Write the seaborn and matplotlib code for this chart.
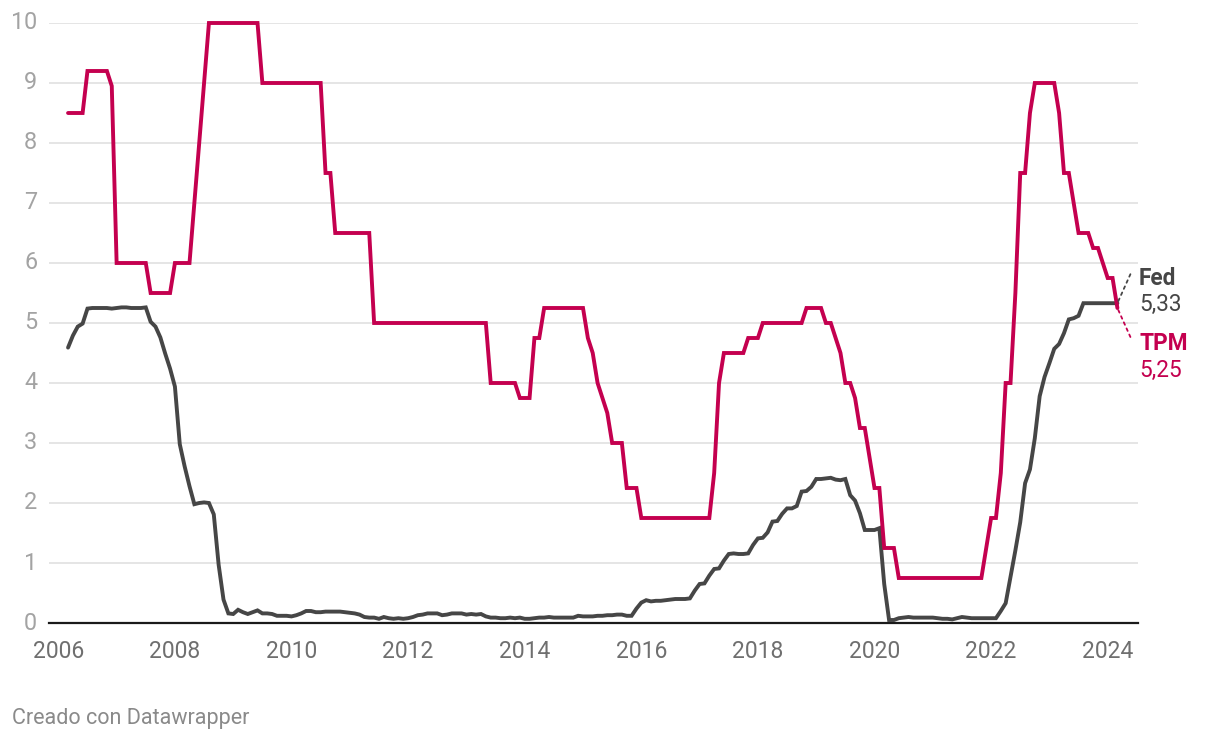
import numpy as np
import pandas as pd
import matplotlib
matplotlib.use("Agg")
import matplotlib.pyplot as plt
import seaborn as sns

# ---------------- data ----------------
fecha_inicio = "2006-03"
fecha_fin = "2024-03"

tpm = [
    # 2006 (mar-dic)
    8.5, 8.5, 8.5, 8.5, 9.2, 9.2, 9.2, 9.2, 9.2, 8.95,
    # 2007
    6.0, 6.0, 6.0, 6.0, 6.0, 6.0, 6.0, 5.5, 5.5, 5.5, 5.5, 5.5,
    # 2008
    6.0, 6.0, 6.0, 6.0, 7.0, 8.0, 9.0, 10.0, 10.0, 10.0, 10.0, 10.0,
    # 2009
    10.0, 10.0, 10.0, 10.0, 10.0, 10.0, 9.0, 9.0, 9.0, 9.0, 9.0, 9.0,
    # 2010
    9.0, 9.0, 9.0, 9.0, 9.0, 9.0, 9.0, 7.5, 7.5, 6.5, 6.5, 6.5,
    # 2011
    6.5, 6.5, 6.5, 6.5, 6.5, 5.0, 5.0, 5.0, 5.0, 5.0, 5.0, 5.0,
    # 2012
    5.0, 5.0, 5.0, 5.0, 5.0, 5.0, 5.0, 5.0, 5.0, 5.0, 5.0, 5.0,
    # 2013
    5.0, 5.0, 5.0, 5.0, 5.0, 4.0, 4.0, 4.0, 4.0, 4.0, 4.0, 3.75,
    # 2014
    3.75, 3.75, 4.75, 4.75, 5.25, 5.25, 5.25, 5.25, 5.25, 5.25, 5.25, 5.25,
    # 2015
    5.25, 4.75, 4.5, 4.0, 3.75, 3.5, 3.0, 3.0, 3.0, 2.25, 2.25, 2.25,
    # 2016
    1.75, 1.75, 1.75, 1.75, 1.75, 1.75, 1.75, 1.75, 1.75, 1.75, 1.75, 1.75,
    # 2017
    1.75, 1.75, 1.75, 2.5, 4.0, 4.5, 4.5, 4.5, 4.5, 4.5, 4.75, 4.75,
    # 2018
    4.75, 5.0, 5.0, 5.0, 5.0, 5.0, 5.0, 5.0, 5.0, 5.0, 5.25, 5.25,
    # 2019
    5.25, 5.25, 5.0, 5.0, 4.75, 4.5, 4.0, 4.0, 3.75, 3.25, 3.25, 2.75,
    # 2020
    2.25, 2.25, 1.25, 1.25, 1.25, 0.75, 0.75, 0.75, 0.75, 0.75, 0.75, 0.75,
    # 2021
    0.75, 0.75, 0.75, 0.75, 0.75, 0.75, 0.75, 0.75, 0.75, 0.75, 0.75, 1.25,
    # 2022
    1.75, 1.75, 2.5, 4.0, 4.0, 5.5, 7.5, 7.5, 8.5, 9.0, 9.0, 9.0,
    # 2023
    9.0, 9.0, 8.5, 7.5, 7.5, 7.0, 6.5, 6.5, 6.5, 6.25, 6.25, 6.0,
    # 2024
    5.75, 5.75, 5.25,
]

fed = [
    # 2006 (mar-dic)
    4.59, 4.79, 4.94, 4.99, 5.24, 5.25, 5.25, 5.25, 5.25, 5.24,
    # 2007
    5.25, 5.26, 5.26, 5.25, 5.25, 5.25, 5.26, 5.02, 4.94, 4.76, 4.49, 4.24,
    # 2008
    3.94, 2.98, 2.61, 2.28, 1.98, 2.00, 2.01, 2.00, 1.81, 0.97, 0.39, 0.16,
    # 2009
    0.15, 0.22, 0.18, 0.15, 0.18, 0.21, 0.16, 0.16, 0.15, 0.12, 0.12, 0.12,
    # 2010
    0.11, 0.13, 0.16, 0.20, 0.20, 0.18, 0.18, 0.19, 0.19, 0.19, 0.19, 0.18,
    # 2011
    0.17, 0.16, 0.14, 0.10, 0.09, 0.09, 0.07, 0.10, 0.08, 0.07, 0.08, 0.07,
    # 2012
    0.08, 0.10, 0.13, 0.14, 0.16, 0.16, 0.16, 0.13, 0.14, 0.16, 0.16, 0.16,
    # 2013
    0.14, 0.15, 0.14, 0.15, 0.11, 0.09, 0.09, 0.08, 0.08, 0.09, 0.08, 0.09,
    # 2014
    0.07, 0.07, 0.08, 0.09, 0.09, 0.10, 0.09, 0.09, 0.09, 0.09, 0.09, 0.12,
    # 2015
    0.11, 0.11, 0.11, 0.12, 0.12, 0.13, 0.13, 0.14, 0.14, 0.12, 0.12, 0.24,
    # 2016
    0.34, 0.38, 0.36, 0.37, 0.37, 0.38, 0.39, 0.40, 0.40, 0.40, 0.41, 0.54,
    # 2017
    0.65, 0.66, 0.79, 0.90, 0.91, 1.04, 1.15, 1.16, 1.15, 1.15, 1.16, 1.30,
    # 2018
    1.41, 1.42, 1.51, 1.69, 1.70, 1.82, 1.91, 1.91, 1.95, 2.19, 2.20, 2.27,
    # 2019
    2.40, 2.40, 2.41, 2.42, 2.39, 2.38, 2.40, 2.13, 2.04, 1.83, 1.55, 1.55,
    # 2020
    1.55, 1.58, 0.65, 0.05, 0.05, 0.08, 0.09, 0.10, 0.09, 0.09, 0.09, 0.09,
    # 2021
    0.09, 0.08, 0.07, 0.07, 0.06, 0.08, 0.10, 0.09, 0.08, 0.08, 0.08, 0.08,
    # 2022
    0.08, 0.08, 0.20, 0.33, 0.77, 1.21, 1.68, 2.33, 2.56, 3.08, 3.78, 4.10,
    # 2023
    4.33, 4.57, 4.65, 4.83, 5.06, 5.08, 5.12, 5.33, 5.33, 5.33, 5.33, 5.33,
    # 2024
    5.33, 5.33, 5.33,
]

series = ["Fed", "TPM"]
x_ticks = [2006, 2008, 2010, 2012, 2014, 2016, 2018, 2020, 2022, 2024]
y_ticks = [0, 1, 2, 3, 4, 5, 6, 7, 8, 9, 10]
valor_fed = "5,33"
valor_tpm = "5,25"
creditos = "Creado con Datawrapper"

# ---------------- build frame ----------------
fechas = pd.period_range(fecha_inicio, fecha_fin, freq="M")
t = np.array([p.year + (p.month - 1) / 12 for p in fechas])
df = pd.concat([
    pd.DataFrame({"t": t, "v": fed, "serie": "Fed"}),
    pd.DataFrame({"t": t, "v": tpm, "serie": "TPM"}),
])

c_tpm = "#c4004f"
c_fed = "#464646"
palette = {"Fed": c_fed, "TPM": c_tpm}

sns.set_theme(style="white")
plt.rcParams["font.family"] = ["Roboto", "DejaVu Sans"]

W, H = 1220, 740
fig = plt.figure(figsize=(W / 100, H / 100), dpi=100)
ax = fig.add_axes([49 / W, 1 - 623 / H, (1138 - 49) / W, 600 / H])

sns.lineplot(data=df, x="t", y="v", hue="serie", hue_order=series,
             palette=palette, linewidth=2.8, ax=ax, legend=False,
             estimator=None, sort=True)
for ln in ax.lines:
    ln.set_clip_on(False)
    ln.set_solid_joinstyle("miter")

ax.set_xlim(2005.84, 2024.52)
ax.set_ylim(0, 10)
ax.set_xticks(x_ticks)
ax.set_xticklabels([str(x) for x in x_ticks])
ax.set_yticks(y_ticks)
ax.set_yticklabels([str(y) for y in y_ticks])
ax.set_xlabel("")
ax.set_ylabel("")

ax.grid(axis="y", color="#e3e3e3", linewidth=1.3)
ax.grid(axis="x", visible=False)
ax.set_axisbelow(True)
for s in ["left", "right", "top"]:
    ax.spines[s].set_visible(False)
ax.spines["bottom"].set_color("#1a1a1a")
ax.spines["bottom"].set_linewidth(1.6)
ax.spines["bottom"].set_zorder(3)

ax.tick_params(axis="y", length=0, pad=8.5, labelsize=16.8, labelcolor="#a3a3a3")
ax.tick_params(axis="x", length=0, pad=12.5, labelsize=16.5, labelcolor="#6f6f6f")
for lab in ax.get_yticklabels():
    lab.set_verticalalignment("center")

# end labels with dotted connectors
t_last = t[-1]
ax.annotate("", xy=(t_last, fed[-1]), xytext=(13, 29), textcoords="offset pixels",
            arrowprops=dict(arrowstyle="-", color=c_fed, lw=1.3, ls=(0, (1.5, 2.2)),
                            shrinkA=0, shrinkB=0), annotation_clip=False)
ax.annotate("", xy=(t_last, tpm[-1]), xytext=(13, -29), textcoords="offset pixels",
            arrowprops=dict(arrowstyle="-", color=c_tpm, lw=1.3, ls=(0, (1.5, 2.2)),
                            shrinkA=0, shrinkB=0), annotation_clip=False)

fx = 1139 / W
fig.text(fx, 1 - 285 / H, series[0], color=c_fed, fontsize=16.3, fontweight="bold", va="baseline")
fig.text(fx, 1 - 311 / H, valor_fed, color=c_fed, fontsize=16.3, va="baseline")
fig.text(fx, 1 - 350 / H, series[1], color=c_tpm, fontsize=16.3, fontweight="bold", va="baseline")
fig.text(fx, 1 - 377 / H, valor_tpm, color=c_tpm, fontsize=16.3, va="baseline")

fig.text(12 / W, 1 - 724 / H, creditos, color="#8a8a8a", fontsize=15.5, va="baseline")

fig.savefig("out.png", dpi=100, facecolor="white")
